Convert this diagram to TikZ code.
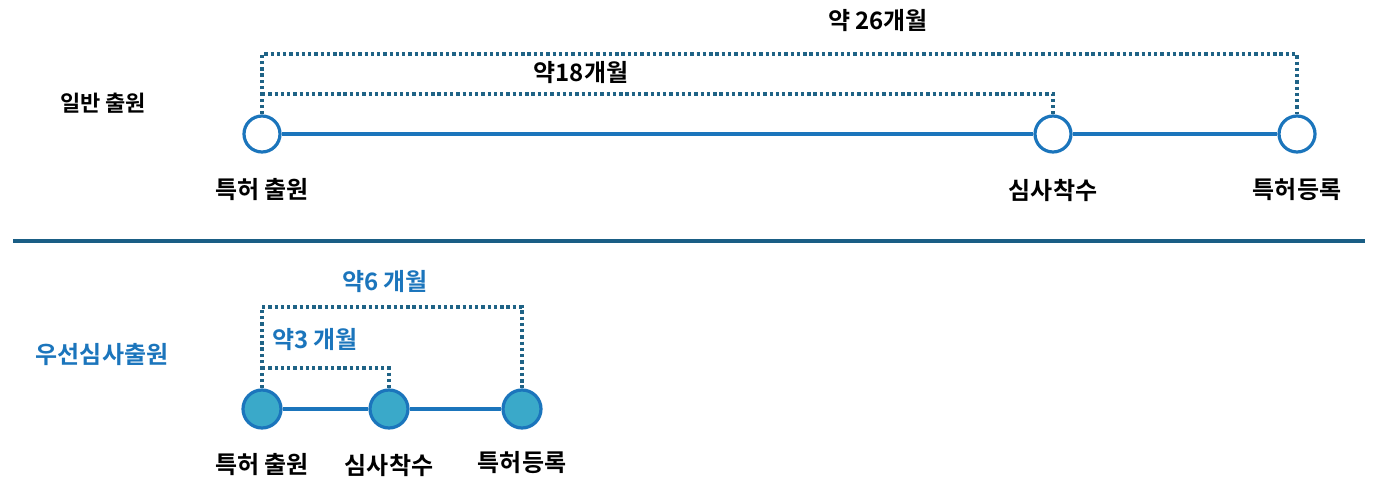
\documentclass[tikz,border=0pt]{standalone}
\usepackage{fontspec}
\newfontfamily\kr{Noto Sans CJK KR Bold}
\definecolor{cblue}{HTML}{1B75BC}
\definecolor{cdot}{HTML}{1F6386}
\definecolor{csep}{HTML}{1A5E85}
\definecolor{cfill}{HTML}{3AA9C9}
\begin{document}
\begin{tikzpicture}[x=0.75pt,y=-0.75pt,
  emptystep/.style={circle,draw=cblue,fill=white,line width=2.4pt,minimum size=36*0.75pt,inner sep=0pt},
  fullstep/.style={circle,draw=cblue,fill=cfill,line width=2.4pt,minimum size=38*0.75pt,inner sep=0pt},
  link/.style={draw=cblue,line width=2.4pt},
  span/.style={draw=cdot,line width=2.5pt,dash pattern=on 2.5pt off 2.2pt},
  lab/.style={font=\kr\fontsize{18}{20}\selectfont,text=black,inner sep=0pt},
  blab/.style={font=\kr\fontsize{18}{20}\selectfont,text=cblue,inner sep=0pt}]
\useasboundingbox (0,0) rectangle (1398,498);
% top row
\node[emptystep] (a1) at (262,134) {};
\node[emptystep] (a2) at (1053,134) {};
\node[emptystep] (a3) at (1297,134) {};
\draw[link] (a1) -- (a2);
\draw[link] (a2) -- (a3);
\draw[span] (a1.north) -- (262,54) -- (1297,54) -- (a3.north);
\draw[span] (262,94) -- (1053,94) -- (a2.north);
\node[lab] (t26) at (878,21) {약 26개월};
\node[lab] (t18) at (581,73) {약18개월};
\node[lab,font=\kr\fontsize{16.5}{18}\selectfont] (gen) at (103,103) {일반 출원};
\node[lab] (l1) at (262,190) {특허 출원};
\node[lab] (l2) at (1053,190) {심사착수};
\node[lab] (l3) at (1297,190) {특허등록};
% separator
\coordinate (s1) at (13,241);
\coordinate (s2) at (1365,241);
\draw[draw=csep,line width=2.3pt] (s1) -- (s2);
% bottom row
\node[fullstep] (b1) at (262,409) {};
\node[fullstep] (b2) at (389,409) {};
\node[fullstep] (b3) at (522,409) {};
\draw[link] (b1) -- (b2);
\draw[link] (b2) -- (b3);
\draw[span] (b1.north) -- (262,307) -- (522,307) -- (b3.north);
\draw[span] (262,368) -- (389,368) -- (b2.north);
\node[blab] (t6) at (385,282) {약6 개월};
\node[blab] (t3) at (315,340) {약3 개월};
\node[blab] (pri) at (102,355) {우선심사출원};
\node[lab] (m1) at (262,465) {특허 출원};
\node[lab] (m2) at (389,465) {심사착수};
\node[lab] (m3) at (522,463) {특허등록};
\end{tikzpicture}
\end{document}
